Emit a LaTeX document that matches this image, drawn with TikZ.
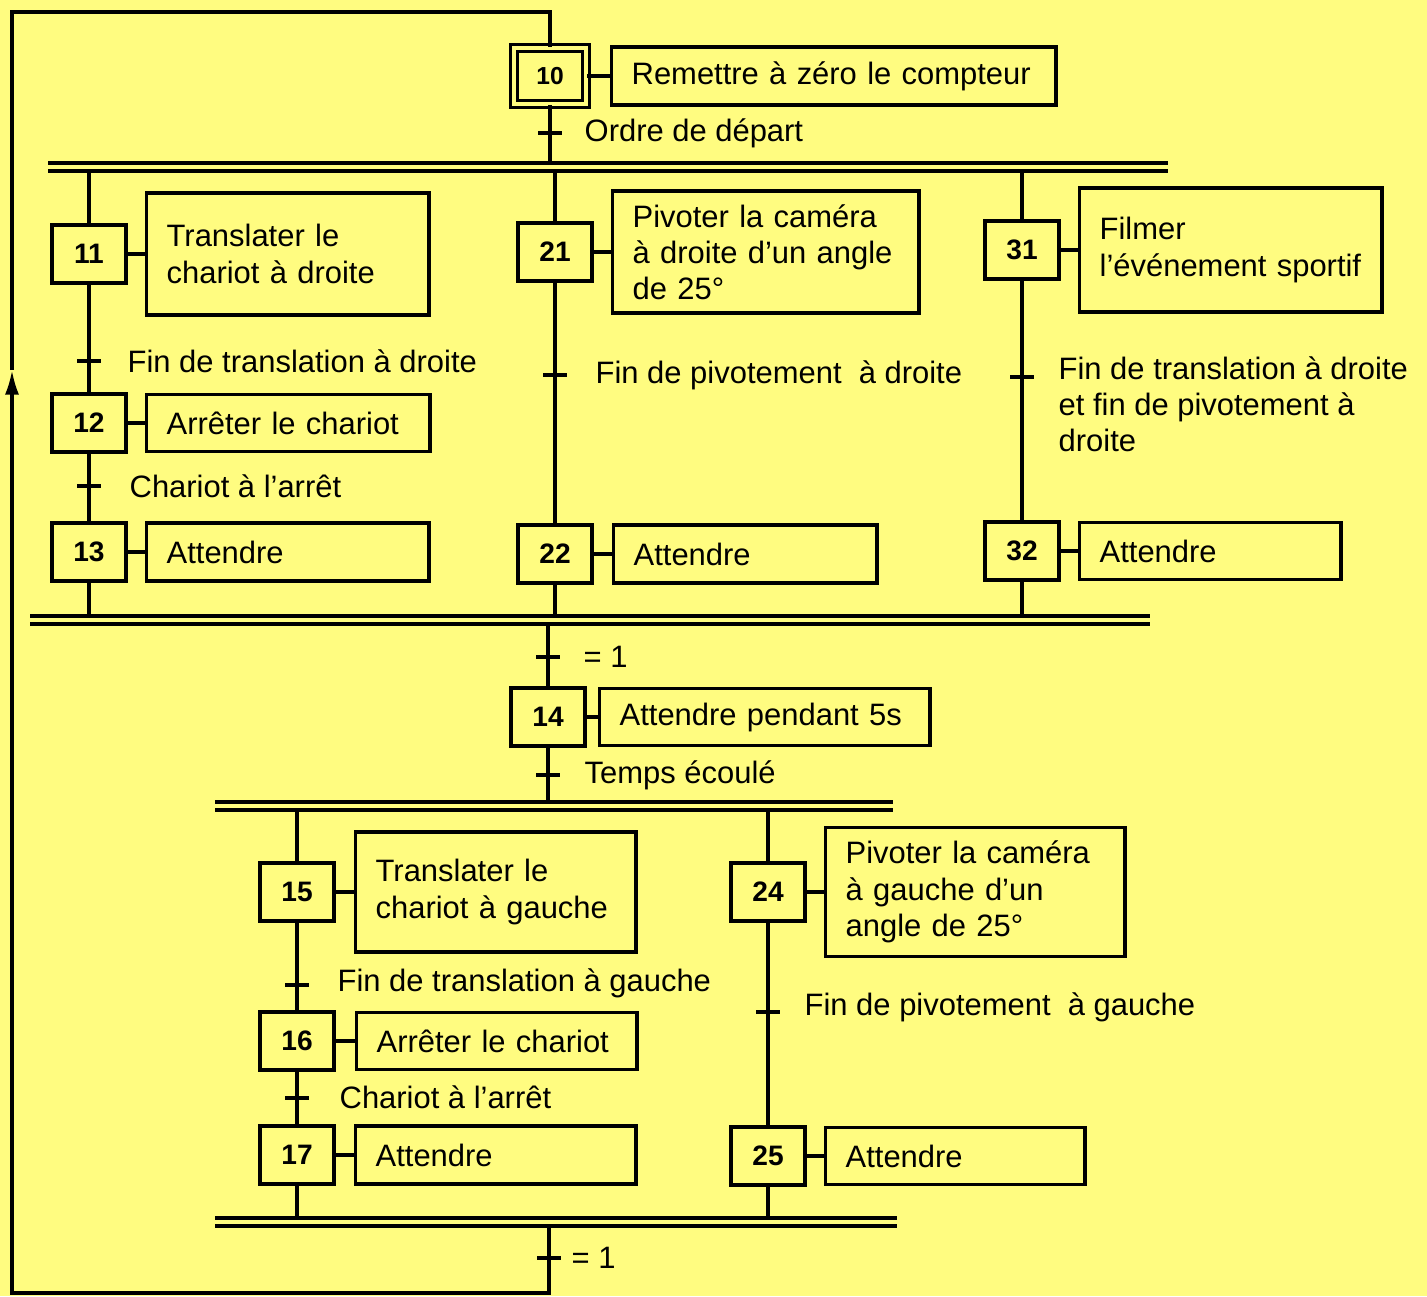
\documentclass[tikz,border=0pt]{standalone}
\usepackage{fontspec}
\setmainfont{Liberation Sans}
\usetikzlibrary{arrows.meta}
\definecolor{papier}{RGB}{255,252,128}
\begin{document}
\begin{tikzpicture}[x=0.01cm, y=-0.01cm, line width=0.95pt,
  etape/.style={draw, minimum width=0.74cm, minimum height=0.58cm, inner sep=0pt, font=\fontsize{8}{9}\selectfont\bfseries},
  action/.style={draw, anchor=west, align=left, inner xsep=0.2cm, inner ysep=0pt, font=\fontsize{8.8}{10.3}\selectfont},
  recept/.style={anchor=west, align=left, inner sep=0pt, font=\fontsize{8.8}{10.3}\selectfont},
  barre/.style={line width=1pt}]
\path[use as bounding box, fill=papier] (0,0) rectangle (1427,1296);
\node[etape, double=papier, double distance=1.2pt, line width=0.75pt, minimum width=0.72cm, minimum height=0.56cm, font=\fontsize{7}{8}\selectfont\bfseries] (s10) at (550,76){10};
\node[action, text width=4.04cm, minimum height=0.58cm] (a10) at (610,76){Remettre à zéro le compteur};
\node[etape] (s11) at (89,254){11};
\node[action, text width=2.42cm, minimum height=1.22cm] (a11) at (145,254){Translater le\\chariot à droite};
\node[etape] (s12) at (89,423){12};
\node[action, text width=2.43cm, minimum height=0.57cm] (a12) at (145,423){Arrêter le chariot};
\node[etape] (s13) at (89,552){13};
\node[action, text width=2.42cm, minimum height=0.58cm] (a13) at (145,552){Attendre};
\node[etape] (s21) at (555,252){21};
\node[action, text width=2.66cm, minimum height=1.22cm] (a21) at (611,252){Pivoter la caméra\\à droite d’un angle\\de 25°};
\node[etape] (s22) at (555,554){22};
\node[action, text width=2.23cm, minimum height=0.58cm] (a22) at (612,554){Attendre};
\node[etape] (s31) at (1022,250){31};
\node[action, text width=2.62cm, minimum height=1.24cm] (a31) at (1078,250){Filmer\\l’événement sportif};
\node[etape] (s32) at (1022,551){32};
\node[action, text width=2.21cm, minimum height=0.57cm] (a32) at (1078,551){Attendre};
\node[etape] (s14) at (548,717){14};
\node[action, text width=2.90cm, minimum height=0.57cm] (a14) at (598,717){Attendre pendant 5s};
\node[etape] (s15) at (297,892){15};
\node[action, text width=2.40cm, minimum height=1.20cm] (a15) at (354,892){Translater le\\chariot à gauche};
\node[etape] (s16) at (297,1041){16};
\node[action, text width=2.40cm, minimum height=0.57cm] (a16) at (355,1041){Arrêter le chariot};
\node[etape] (s17) at (297,1155){17};
\node[action, text width=2.40cm, minimum height=0.58cm] (a17) at (354,1155){Attendre};
\node[etape] (s24) at (768,892){24};
\node[action, text width=2.59cm, minimum height=1.29cm] (a24) at (824,892){Pivoter la caméra\\à gauche d’un\\angle de 25°};
\node[etape] (s25) at (768,1156){25};
\node[action, text width=2.19cm, minimum height=0.57cm] (a25) at (824,1156){Attendre};
\coordinate (t10) at (550,133);
\coordinate (t11) at (89,361);
\coordinate (t12) at (89,486);
\coordinate (t21) at (555,375);
\coordinate (t31) at (1022,377);
\coordinate (t13) at (548,657);
\coordinate (t14) at (548,775);
\coordinate (t15) at (297,985);
\coordinate (t16) at (297,1098);
\coordinate (t24) at (768,1012);
\coordinate (t17) at (549,1258);
\node[recept] (r10) at (583,133){Ordre de départ};
\node[recept] (r11) at (126,361){Fin de translation à droite};
\node[recept] (r12) at (128,486){Chariot à l’arrêt};
\node[recept] (r21) at (594,375){Fin de pivotement\ \ à droite};
\node[recept] (r31) at (1057,404){Fin de translation à droite\\et fin de pivotement à\\droite};
\node[recept] (r13) at (582,657){= 1};
\node[recept] (r14) at (583,775){Temps écoulé};
\node[recept] (r15) at (336,983){Fin de translation à gauche};
\node[recept] (r16) at (338,1097){Chariot à l’arrêt};
\node[recept] (r24) at (803,1007){Fin de pivotement\ \ à gauche};
\node[recept] (r17) at (570,1258){= 1};
\coordinate (d1h) at (48,163);
\coordinate (d1b) at (48,171);
\coordinate (c1h) at (30,616);
\coordinate (c1b) at (30,624);
\coordinate (d2h) at (215,802);
\coordinate (d2b) at (215,810);
\coordinate (c2h) at (215,1218);
\coordinate (c2b) at (215,1226);
\coordinate (b1) at (549,1293);
\coordinate (b2) at (12,1293);
\coordinate (b3) at (12,370);
\coordinate (b4) at (12,12);
\coordinate (b5) at (550,12);
\draw[barre] (d1h) -- ++(1120,0) (d1b) -- ++(1120,0);
\draw[barre] (c1h) -- ++(1120,0) (c1b) -- ++(1120,0);
\draw[barre] (d2h) -- ++(678,0) (d2b) -- ++(678,0);
\draw[barre] (c2h) -- ++(682,0) (c2b) -- ++(682,0);
\foreach \s in {10,11,12,13,21,22,31,32,14,15,16,17,24,25}
  \draw (s\s) -- (a\s);
\foreach \t in {t10,t11,t12,t21,t31,t13,t14,t15,t16,t24,t17}
  \draw (\t) +(-12,0) -- +(12,0);
\draw (s10) -- (s10 |- d1h);
\draw (s11 |- d1b) -- (s11);
\draw (s11) -- (s12);
\draw (s12) -- (s13);
\draw (s13) -- (s13 |- c1h);
\draw (s21 |- d1b) -- (s21);
\draw (s21) -- (s22);
\draw (s22) -- (s22 |- c1h);
\draw (s31 |- d1b) -- (s31);
\draw (s31) -- (s32);
\draw (s32) -- (s32 |- c1h);
\draw (s14 |- c1b) -- (s14);
\draw (s14) -- (s14 |- d2h);
\draw (s15 |- d2b) -- (s15);
\draw (s15) -- (s16);
\draw (s16) -- (s17);
\draw (s17) -- (s17 |- c2h);
\draw (s24 |- d2b) -- (s24);
\draw (s24) -- (s25);
\draw (s25) -- (s25 |- c2h);
\draw[-{Latex[length=7pt,width=4pt]}] (b1 |- c2b) -- (b1) -- (b2) -- (b3);
\draw (b3) -- (b4) -- (b5) -- (s10);
\end{tikzpicture}
\end{document}
